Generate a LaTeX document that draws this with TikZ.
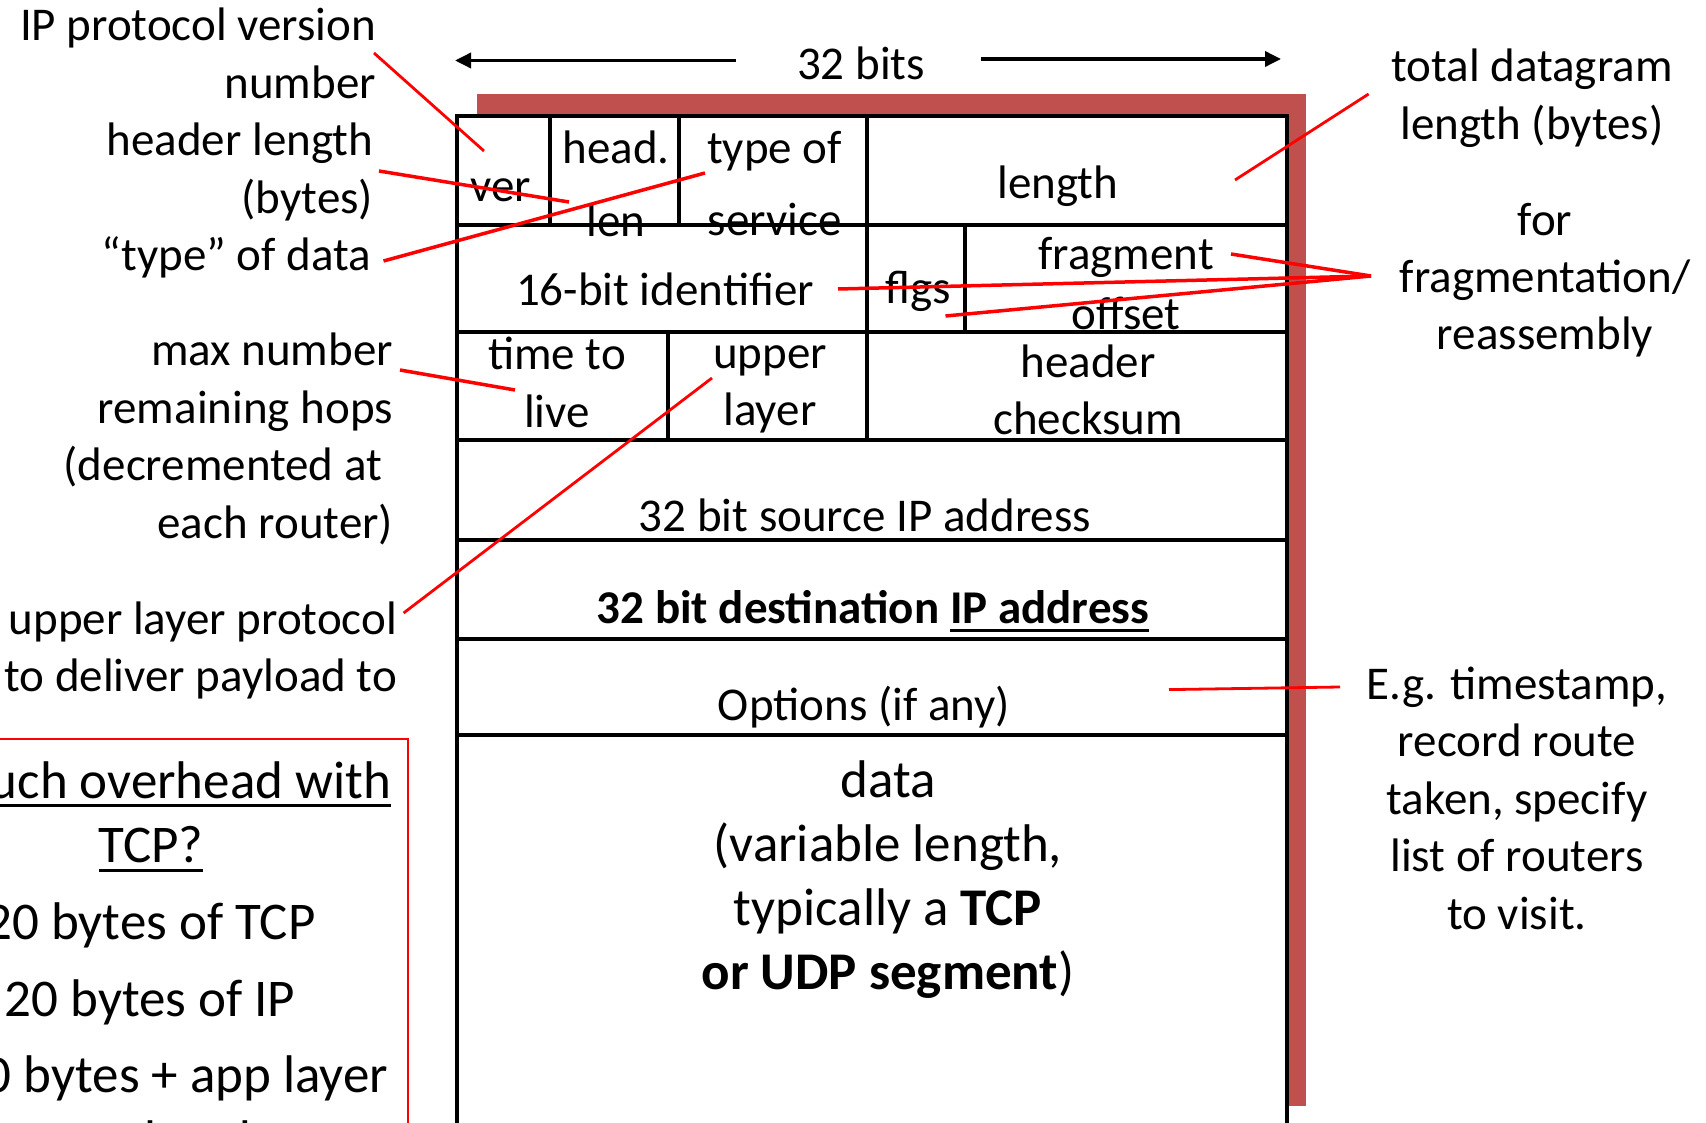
\documentclass[tikz,border=0pt]{standalone}
\usepackage{fontspec}
\setmainfont{Carlito}
\usetikzlibrary{arrows.meta}
\definecolor{shadowred}{RGB}{192,80,77}
\definecolor{callred}{RGB}{255,0,0}
% underline drawn as a rule below the baseline
\newsavebox{\ulbox}
\newcommand{\ulx}[1]{\sbox{\ulbox}{#1}\rlap{\rule[-9pt]{\wd\ulbox}{2.6pt}}\usebox{\ulbox}}
\begin{document}
\begin{tikzpicture}[x=1pt,y=-1pt,
  txt/.style={inner sep=0pt, outer sep=0pt, yshift=-2pt, font=\fontsize{47}{57.5}\selectfont},
  lefttxt/.style={txt, align=right, anchor=base east},
  midtxt/.style={txt, align=center, anchor=base},
  bigtxt/.style={inner sep=0pt, outer sep=0pt, yshift=-1pt, font=\fontsize{53}{63.7}\selectfont, align=center, anchor=base},
  grid/.style={line width=4pt, line cap=rect},
  callout/.style={draw=callred, line width=3.5pt},
  thincallout/.style={draw=callred, line width=2.8pt},
  dimarrow/.style={line width=3.5pt, -{Triangle[length=16pt,width=15pt]}}]
\useasboundingbox (0,0) rectangle (1706,1123);
\clip (0,0) rectangle (1706,1123);

% offset shadow band behind the header
\fill[shadowred] (477,94) rectangle (1306,1106);

% header layout
\draw[grid, fill=white] (457,116) rectangle (1287,1160);
\foreach \y in {225,332,440,540,639,735}
  \draw[grid] (457,\y) -- (1287,\y);
\foreach \x in {550,679,867}
  \draw[grid] (\x,116) -- (\x,225);
\foreach \x in {867,965}
  \draw[grid] (\x,225) -- (\x,332);
\foreach \x in {668,867}
  \draw[grid] (\x,332) -- (\x,440);

% width marker
\node[midtxt] (bits) at (861,78) {32 bits};
\coordinate (wl0) at (736,60.5);
\coordinate (wl1) at (455,60.5);
\coordinate (wr0) at (981,59);
\coordinate (wr1) at (1281,59);
\draw[dimarrow] (wl0) -- (wl1);
\draw[dimarrow] (wr0) -- (wr1);

% field names (multi-line nodes are placed by the baseline of their last line)
\node[midtxt] (fver) at (501,200) {ver};
\node[midtxt, font=\fontsize{47}{73.5}\selectfont] (fhlen) at (616,235) {head.\\len};
\node[midtxt, font=\fontsize{47}{72}\selectfont] (ftos) at (774.6,234) {type of\\service};
\node[midtxt] (flen) at (1058,197) {length};
\node[midtxt] (fid) at (665,303.5) {16-bit identifier};
\node[midtxt] (fflg) at (918,302) {flgs};
\node[midtxt, font=\fontsize{47}{60}\selectfont] (ffrag) at (1126,328) {fragment\\offset};
\node[midtxt, font=\fontsize{47}{57.5}\selectfont] (fttl) at (557,425) {time to\\live};
\node[midtxt, font=\fontsize{47}{57}\selectfont] (fproto) at (770,423) {upper\\layer};
\node[midtxt, font=\fontsize{47}{57}\selectfont] (fck) at (1088,432) {header\\checksum};
\node[midtxt] (fsrc) at (865,529) {32 bit source IP address};
\node[midtxt] (fdst) at (873,621) {\bfseries 32 bit destination \ulx{IP address}};
\node[midtxt] (fopt) at (864,718) {Options (if any)};
\node[bigtxt] (fdata) at (888,988) {data\\(variable length,\\typically a \textbf{TCP}\\\textbf{or UDP segment})};

% notes on the left
\node[lefttxt] (nver) at (376,96.5) {IP protocol version\\number};
\node[lefttxt] (nhlen) at (373,211.5) {header length\\(bytes)};
\node[lefttxt] (ntos) at (371,269) {“type” of data};
\node[lefttxt] (nttl) at (393,536) {max number\\remaining hops\\(decremented at\rule{11pt}{0pt}\\each router)};
\node[lefttxt] (nproto) at (397,689.5) {upper layer protocol\\to deliver payload to};

% notes on the right
\node[midtxt] (nlen) at (1532,137.5) {total datagram\\length (bytes)};
\node[midtxt] (nfrag) at (1545,348) {for\\fragmentation/\\reassembly};
\node[midtxt] (nopt) at (1517,927) {E.g. timestamp,\\record route\\taken, specify\\list of routers\\to visit.};

% overhead box
\draw[draw=callred, line width=2pt] (-20,739) rectangle (408,1200);
\node[bigtxt, anchor=base east] (ov1) at (391,797) {\ulx{much overhead with}};
\node[bigtxt] (ov2) at (151,861.5) {\ulx{TCP?}};
\node[bigtxt] (ov3) at (150.5,938) {20 bytes of TCP};
\node[bigtxt] (ov4) at (150,1015) {20 bytes of IP};
\node[bigtxt, anchor=base east] (ov5) at (388,1091.5) {40 bytes + app layer};
\node[bigtxt] (ov6) at (150,1156) {overhead};

% callout lines
\coordinate (cver0) at (374,53);    \coordinate (cver1) at (484,151);
\coordinate (chl0) at (379,171);    \coordinate (chl1) at (569,202);
\coordinate (ctos0) at (383.5,261); \coordinate (ctos1) at (705,173);
\coordinate (cttl0) at (400,370);   \coordinate (cttl1) at (515,390);
\coordinate (cpr0) at (403.6,613);  \coordinate (cpr1) at (712,378);
\coordinate (clen0) at (1368.6,94); \coordinate (clen1) at (1235,180);
\coordinate (cfr) at (1371,276);
\coordinate (cfr1) at (1231,254);
\coordinate (cfr2) at (945.5,316);
\coordinate (cfr3) at (838,289);
\coordinate (cop0) at (1169,689.6); \coordinate (cop1) at (1340,687);

\draw[thincallout] (cver0) -- (cver1);
\draw[callout] (chl0) -- (chl1);
\draw[callout] (ctos0) -- (ctos1);
\draw[callout] (cttl0) -- (cttl1);
\draw[thincallout] (cpr0) -- (cpr1);
\draw[thincallout] (clen0) -- (clen1);
\draw[callout] (cfr) -- (cfr1);
\draw[callout] (cfr) -- (cfr2);
\draw[callout] (cfr) -- (cfr3);
\draw[thincallout] (cop0) -- (cop1);
\end{tikzpicture}
\end{document}
